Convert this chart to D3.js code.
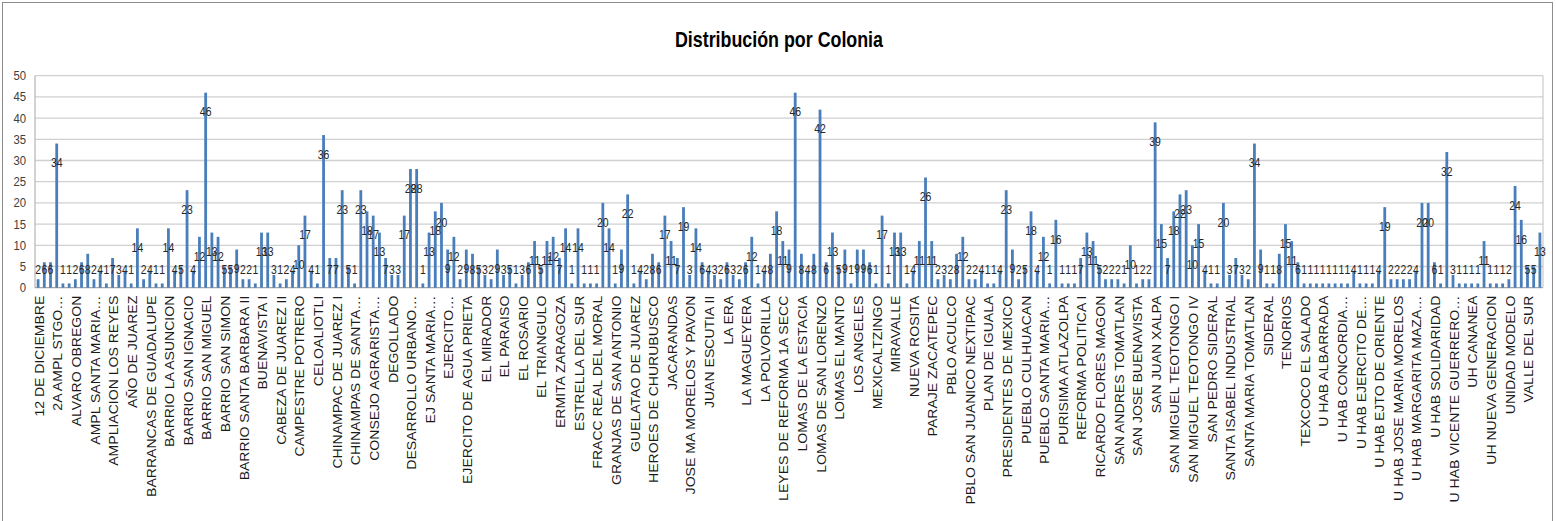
<!DOCTYPE html>
<html>
<head>
<meta charset="utf-8">
<script src="https://cdn.jsdelivr.net/npm/d3@7"></script>
<style>
  body { margin: 0; background: #fff; }
  text { font-family: 'Liberation Sans', Arial, sans-serif; }
</style>
</head>
<body>
<div id="graf"></div>
<script>
// Datos
titulo = 'Distribución por Colonia'

// etiquetas visibles (una de cada tres colonias)
colonias = ['12 DE DICIEMBRE', '2A AMPL STGO…', 'ALVARO OBREGON', 'AMPL SANTA MARIA…', 'AMPLIACION LOS REYES',
  'AÑO DE JUAREZ', 'BARRANCAS DE GUADALUPE', 'BARRIO LA ASUNCION', 'BARRIO SAN IGNACIO', 'BARRIO SAN MIGUEL',
  'BARRIO SAN SIMON', 'BARRIO SANTA BARBARA II', 'BUENAVISTA I', 'CABEZA DE JUAREZ II', 'CAMPESTRE POTRERO',
  'CELOALIOTLI', 'CHINAMPAC DE JUAREZ I', 'CHINAMPAS DE SANTA…', 'CONSEJO AGRARISTA…', 'DEGOLLADO',
  'DESARROLLO URBANO…', 'EJ SANTA MARIA…', 'EJERCITO…', 'EJERCITO DE AGUA PRIETA', 'EL MIRADOR',
  'EL PARAISO', 'EL ROSARIO', 'EL TRIANGULO', 'ERMITA ZARAGOZA', 'ESTRELLA DEL SUR',
  'FRACC REAL DEL MORAL', 'GRANJAS DE SAN ANTONIO', 'GUELATAO DE JUAREZ', 'HEROES DE CHURUBUSCO', 'JACARANDAS',
  'JOSE MA MORELOS Y PAVON', 'JUAN ESCUTIA II', 'LA ERA', 'LA MAGUEYERA', 'LA POLVORILLA',
  'LEYES DE REFORMA 1A SECC', 'LOMAS DE LA ESTACIA', 'LOMAS DE SAN LORENZO', 'LOMAS EL MANTO', 'LOS ANGELES',
  'MEXICALTZINGO', 'MIRAVALLE', 'NUEVA ROSITA', 'PARAJE ZACATEPEC', 'PBLO ACULCO',
  'PBLO SAN JUANICO NEXTIPAC', 'PLAN DE IGUALA', 'PRESIDENTES DE MEXICO', 'PUEBLO CULHUACAN', 'PUEBLO SANTA MARIA…',
  'PURISIMA ATLAZOLPA', 'REFORMA POLITICA I', 'RICARDO FLORES MAGON', 'SAN ANDRES TOMATLAN', 'SAN JOSE BUENAVISTA',
  'SAN JUAN XALPA', 'SAN MIGUEL TEOTONGO I', 'SAN MIGUEL TEOTONGO IV', 'SAN PEDRO SIDERAL', 'SANTA ISABEL INDUSTRIAL',
  'SANTA MARIA TOMATLAN', 'SIDERAL', 'TENORIOS', 'TEXCOCO EL SALADO', 'U HAB ALBARRADA',
  'U HAB CONCORDIA…', 'U HAB EJERCITO DE…', 'U HAB EJTO DE ORIENTE', 'U HAB JOSE MARIA MORELOS', 'U HAB MARGARITA MAZA…',
  'U HAB SOLIDARIDAD', 'U HAB VICENTE GUERRERO…', 'UH CANANEA', 'UH NUEVA GENERACION', 'UNIDAD MODELO',
  'VALLE DEL SUR']

// casos por colonia (243 barras)
casos = [2, 6, 6, 34, 1, 1, 2, 6, 8, 2, 4, 1, 7, 3, 4, 1, 14, 2, 4, 1, 1,
  14, 4, 5, 23, 4, 12, 46, 13, 12, 5, 5, 9, 2, 2, 1, 13, 13, 3, 1, 2, 4, 10, 17, 4, 1,
  36, 7, 7, 23, 5, 1, 23, 18, 17, 13, 7, 3, 3, 17, 28, 28, 1, 13, 18, 20, 9, 12, 2, 9, 8,
  5, 3, 2, 9, 3, 5, 1, 3, 6, 11, 5, 11, 12, 7, 14, 1, 14, 1, 1, 1, 20, 14, 1, 9, 22,
  1, 4, 2, 8, 6, 17, 11, 7, 19, 3, 14, 6, 4, 3, 2, 6, 3, 2, 6, 12, 1, 4, 8, 18, 11,
  9, 46, 8, 4, 8, 42, 6, 13, 5, 9, 1, 9, 9, 6, 1, 17, 1, 13, 13, 1, 4, 11, 26, 11, 2,
  3, 2, 8, 12, 2, 2, 4, 1, 1, 4, 23, 9, 2, 5, 18, 4, 12, 1, 16, 1, 1, 1, 7, 13, 11,
  5, 2, 2, 2, 1, 10, 1, 2, 2, 39, 15, 7, 18, 22, 23, 10, 15, 4, 1, 1, 20, 3, 7, 3, 2,
  34, 9, 1, 1, 8, 15, 11, 6, 1, 1, 1, 1, 1, 1, 1, 1, 4, 1, 1, 1, 4, 19, 2, 2, 2,
  2, 4, 20, 20, 6, 1, 32, 3, 1, 1, 1, 1, 11, 1, 1, 1, 2, 24, 16, 5, 5, 13]

ticksY = [0, 5, 10, 15, 20, 25, 30, 35, 40, 45, 50]

// I. Configuración
ancho_total = 1556
alto_total = 521
margins = { top: 75.7, left: 35, right: 13, bottom: 233.3 }
ancho = ancho_total - margins.left - margins.right
alto = alto_total - margins.top - margins.bottom

svg = d3.select('#graf').append('svg')
  .attr('width', ancho_total)
  .attr('height', alto_total)

// marco del gráfico
svg.append('rect')
  .attr('x', 2.5).attr('y', 2.5)
  .attr('width', 1550).attr('height', 530)
  .attr('fill', 'none')
  .attr('stroke', '#8c8c8c')

svg.append('text')
  .attr('x', 779)
  .attr('y', 47)
  .attr('text-anchor', 'middle')
  .attr('font-size', '22px')
  .attr('font-weight', 'bold')
  .attr('textLength', 208)
  .attr('lengthAdjust', 'spacingAndGlyphs')
  .attr('fill', '#000')
  .text(titulo)

g = svg.append('g')
  .attr('transform', `translate(${margins.left}, ${margins.top})`)

y = d3.scaleLinear().domain([0, 50]).range([alto, 0])

x = d3.scaleBand()
  .domain(d3.range(casos.length))
  .range([0, ancho])
  .paddingInner(0.55)
  .paddingOuter(0.275)

// rejilla
g.selectAll('line.grid')
  .data(ticksY)
  .enter().append('line')
  .attr('class', 'grid')
  .attr('x1', 0).attr('x2', ancho)
  .attr('y1', d => y(d)).attr('y2', d => y(d))
  .attr('stroke', d => d === 0 ? '#a6a6a6' : '#d0d0d0')
  .attr('stroke-width', 1.3)

g.append('line').attr('x1', 0).attr('x2', 0).attr('y1', 0).attr('y2', alto)
  .attr('stroke', '#a6a6a6')
g.append('line').attr('x1', ancho).attr('x2', ancho).attr('y1', 0).attr('y2', alto)
  .attr('stroke', '#bfbfbf')

// eje y
yAxis = d3.axisLeft(y).tickValues(ticksY).tickSize(0).tickPadding(9)
g.append('g').call(yAxis)
  .call(s => s.select('.domain').remove())
  .selectAll('text')
  .attr('font-size', '12.5px')
  .attr('fill', '#404040')
  .attr('textLength', d => String(d).length * 6.3)
  .attr('lengthAdjust', 'spacingAndGlyphs')

// eje x (una etiqueta cada tres barras)
xAxis = d3.axisBottom(x)
  .tickValues(d3.range(0, casos.length, 3))
  .tickFormat(i => colonias[i / 3])
  .tickSize(0)
etiquetas = g.append('g')
  .attr('transform', `translate(0, ${alto})`)
  .call(xAxis)
  .call(s => s.select('.domain').remove())
  .selectAll('text')
  .attr('font-size', '12px')
  .attr('fill', '#1a1a1a')
  .attr('text-anchor', 'end')
  .attr('transform', 'rotate(-90)')
  .attr('x', -8)
  .attr('y', 1.5)
  .attr('dy', '0.35em')

// alargar un poco las etiquetas, como en el original
etiquetas.each(function() {
  largo = this.getComputedTextLength()
  d3.select(this)
    .attr('textLength', largo * 1.17)
    .attr('lengthAdjust', 'spacingAndGlyphs')
})

// barras
g.selectAll('rect.barra')
  .data(casos)
  .enter().append('rect')
  .attr('class', 'barra')
  .attr('x', (d, i) => x(i))
  .attr('width', x.bandwidth())
  .attr('y', d => y(d))
  .attr('height', d => alto - y(d))
  .attr('fill', '#4a7ebb')

// etiquetas de valores
g.selectAll('text.valor')
  .data(casos)
  .enter().append('text')
  .attr('class', 'valor')
  .attr('x', (d, i) => x(i) + x.bandwidth() / 2)
  .attr('y', d => Math.min(y(d) + 19, alto - 18))
  .attr('dy', '0.35em')
  .attr('text-anchor', 'middle')
  .attr('font-size', '13.5px')
  .attr('textLength', d => String(d).length * 5.8)
  .attr('lengthAdjust', 'spacingAndGlyphs')
  .attr('fill', '#262626')
  .text(d => d)
</script>
</body>
</html>
